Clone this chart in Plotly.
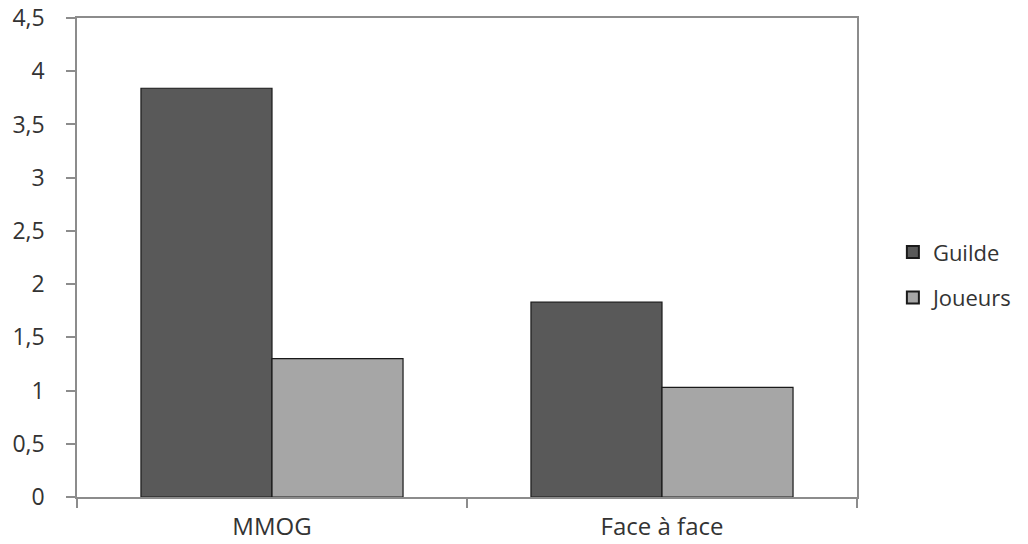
import plotly.graph_objects as go

categories = ["MMOG", "Face à face"]
guilde = [3.84, 1.83]
joueurs = [1.30, 1.03]
y_ticks = [0, 0.5, 1, 1.5, 2, 2.5, 3, 3.5, 4, 4.5]
y_tick_labels = ["0", "0,5", "1", "1,5", "2", "2,5", "3", "3,5", "4", "4,5"]

FONT = "Open Sans"
TXT = "#333333"
AX = "#8c8c8c"

fig = go.Figure()
fig.add_trace(go.Bar(x=categories, y=guilde, name="Guilde", legendgroup="g1",
                     marker=dict(color="#595959", line=dict(color="#1a1a1a", width=1.2))))
fig.add_trace(go.Bar(x=categories, y=joueurs, name="Joueurs", legendgroup="g2",
                     marker=dict(color="#a6a6a6", line=dict(color="#1a1a1a", width=1.2))))

fig.update_layout(
    width=1028, height=544,
    margin=dict(l=77, r=171, t=18, b=47, autoexpand=False),
    paper_bgcolor="white", plot_bgcolor="white",
    barmode="group", bargap=0.328, bargroupgap=0,
    font=dict(family=FONT, size=23, color=TXT),
    legend=dict(x=1.046, xanchor="left", y=0.463, yanchor="middle",
                font=dict(size=22, color=TXT), tracegroupgap=14,
                itemsizing="constant", bgcolor="rgba(0,0,0,0)"),
    showlegend=True,
)
fig.update_xaxes(
    type="category", showgrid=False, showline=True, linecolor=AX, linewidth=1.5,
    mirror=True, ticks="outside", tickson="boundaries", ticklen=9, tickcolor=AX,
    tickwidth=1.5, tickfont=dict(size=24, color=TXT), ticklabelstandoff=7,
    automargin=False,
)
fig.update_yaxes(
    range=[0, 4.5], tickvals=y_ticks, ticktext=y_tick_labels, showgrid=False,
    showline=True, linecolor=AX, linewidth=1.5, mirror=True, ticks="outside",
    ticklen=9, tickcolor=AX, tickwidth=1.5, tickfont=dict(size=23, color=TXT),
    ticklabelstandoff=17, zeroline=False, automargin=False,
)

fig.write_html("out.html")
